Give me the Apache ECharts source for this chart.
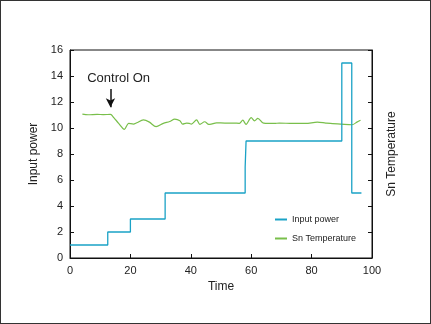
<!DOCTYPE html>
<html><head><meta charset="utf-8">
<script src="https://cdn.jsdelivr.net/npm/echarts@6/dist/echarts.min.js"></script>
<style>
html,body{margin:0;padding:0;background:#fff;}
#c{width:431px;height:324px;box-sizing:border-box;border:1px solid #333;}
</style></head>
<body><div id="c"></div>
<script>
// Input power step profile (time, value)
const powerTime  = [0, 12.5, 12.5, 20, 20, 31.5, 31.5, 58, 58, 58.3, 58.3, 90, 90, 93.3, 93.3, 96.5];
const powerValue = [1, 1, 2, 2, 3, 3, 5, 5, 7, 7, 9, 9, 15, 15, 5, 5];
// Sn Temperature trace (time, value on the same plotted scale)
const tempTime  = [4.1, 6, 9, 11, 13.4, 14.5, 16.1, 18.0, 19.4, 21, 22.1, 24.3, 26.3, 28.5, 30.9, 33, 34.7, 36.4, 37.3, 38.6, 39.5, 40.2, 41.9, 43, 44.6, 45.7, 46.3, 48.5, 51.3, 54, 56.1, 57.2, 58.3, 60, 61.1, 62.2, 63.8, 64.9, 67.7, 69.3, 73.7, 78, 81.9, 84.7, 87, 89.6, 93.4, 95, 96.2];
const tempValue = [11.07, 11.02, 11.05, 11.03, 11.05, 10.8, 10.36, 9.9, 10.36, 10.3, 10.4, 10.62, 10.45, 10.1, 10.36, 10.5, 10.69, 10.56, 10.3, 10.38, 10.35, 10.3, 10.62, 10.28, 10.48, 10.3, 10.28, 10.4, 10.38, 10.38, 10.36, 10.6, 10.28, 10.8, 10.55, 10.74, 10.4, 10.36, 10.35, 10.38, 10.35, 10.35, 10.45, 10.38, 10.33, 10.3, 10.25, 10.45, 10.6];
const xTicks = {min: 0, max: 100, interval: 20};
const yTicks = {min: 0, max: 16, interval: 2};

const powerData = powerTime.map((t, i) => [t, powerValue[i]]);
const tempData = tempTime.map((t, i) => [t, tempValue[i]]);

const FONT = 'Liberation Sans';
const TXT = '#222';
const chart = echarts.init(document.getElementById('c'), null, {renderer: 'canvas'});
const yCommon = {
  type: 'value', min: yTicks.min, max: yTicks.max, interval: yTicks.interval,
  splitLine: {show: false},
  axisLine: {show: true, lineStyle: {color: '#111', width: 1}},
  axisTick: {show: true, inside: true, length: 4, lineStyle: {color: '#111'}},
  nameLocation: 'middle',
  nameTextStyle: {fontFamily: FONT, fontSize: 12, color: TXT}
};
chart.setOption({
  animation: false,
  backgroundColor: '#fff',
  textStyle: {fontFamily: FONT},
  grid: {left: 69, right: 58, top: 49, bottom: 65, show: true, borderColor: '#111', borderWidth: 1, backgroundColor: 'transparent'},
  xAxis: {
    type: 'value', min: xTicks.min, max: xTicks.max, interval: xTicks.interval,
    name: 'Time', nameLocation: 'middle', nameGap: 21,
    nameTextStyle: {fontFamily: FONT, fontSize: 12, color: TXT},
    splitLine: {show: false},
    axisLine: {show: true, lineStyle: {color: '#111'}},
    axisTick: {show: true, inside: true, length: 4, lineStyle: {color: '#111'}},
    axisLabel: {fontFamily: FONT, fontSize: 11, color: TXT, margin: 7}
  },
  yAxis: [
    Object.assign({}, yCommon, {
      position: 'left', name: 'Input power', nameGap: 26, nameRotate: 90,
      axisLabel: {fontFamily: FONT, fontSize: 11, color: TXT, margin: 7}
    }),
    Object.assign({}, yCommon, {
      position: 'right', name: 'Sn Temperature', nameGap: 14, nameRotate: 90,
      axisLabel: {show: false}
    })
  ],
  legend: {
    orient: 'vertical', left: 269, top: 209, itemGap: 10,
    itemWidth: 12, itemHeight: 2, icon: 'rect',
    textStyle: {fontFamily: FONT, fontSize: 9, color: TXT},
    data: ['Input power', 'Sn Temperature']
  },
  series: [
    {
      name: 'Input power', type: 'line', data: powerData, showSymbol: false, symbol: 'none',
      lineStyle: {color: '#1aa2c6', width: 1.3}, itemStyle: {color: '#1aa2c6'}, z: 3
    },
    {
      name: 'Sn Temperature', type: 'line', data: tempData, showSymbol: false, symbol: 'none',
      smooth: 0.3,
      lineStyle: {color: '#79bf4b', width: 1.2}, itemStyle: {color: '#79bf4b'}, z: 2,
      markLine: {
        silent: true, symbol: ['none', 'arrow'], symbolSize: [7, 9],
        label: {show: false},
        lineStyle: {color: '#111', width: 1.5, type: 'solid'},
        data: [[{coord: [13.4, 13.0]}, {coord: [13.4, 11.6]}]]
      },
      markPoint: {
        silent: true, symbol: 'circle', symbolSize: 0,
        label: {show: true, position: 'inside', formatter: 'Control On', fontFamily: FONT, fontSize: 13, color: TXT},
        data: [{coord: [16.1, 13.85]}]
      }
    }
  ]
});
</script></body></html>
